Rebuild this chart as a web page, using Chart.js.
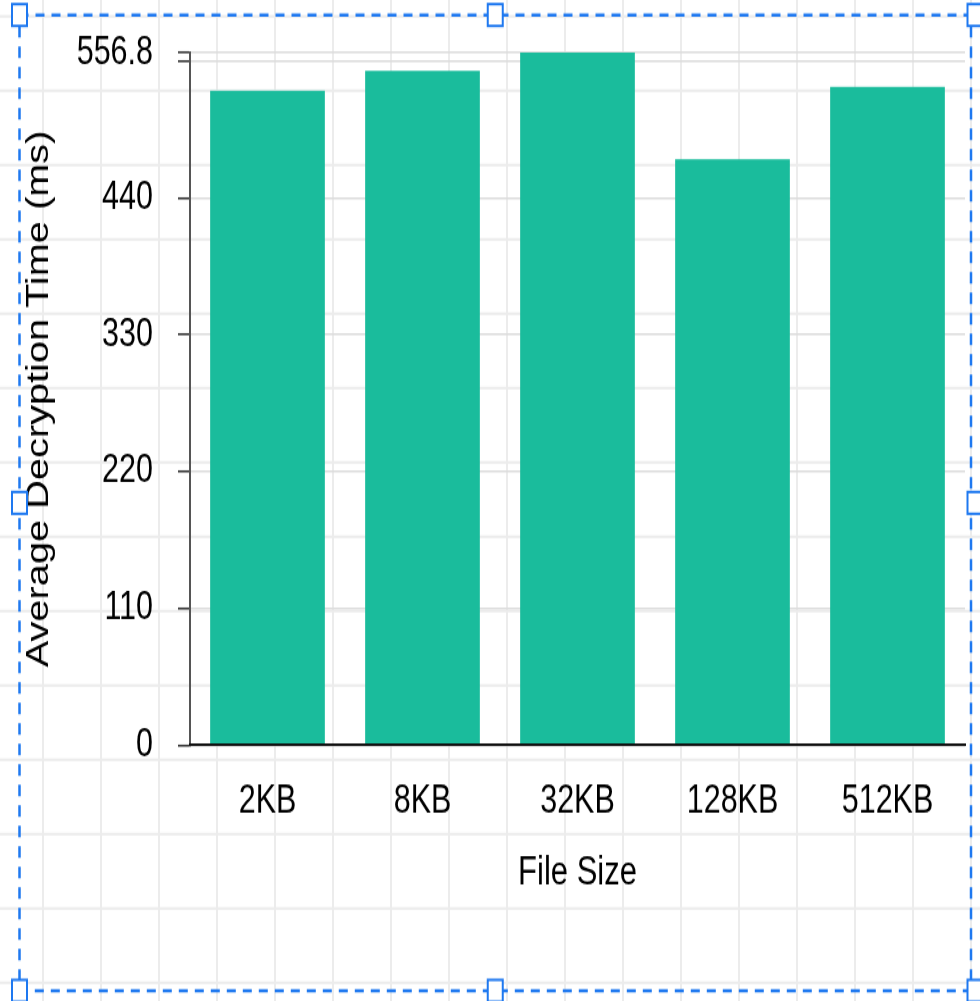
<!DOCTYPE html>
<html>
<head>
<meta charset="utf-8">
<title>Average Decryption Time by File Size</title>
<script src="https://cdn.jsdelivr.net/npm/chart.js@4"></script>
<style>
  html, body { margin: 0; padding: 0; background: #ffffff; overflow: hidden; }
</style>
</head>
<body>
<!-- the drawing surface is laid out at 980x781 and shown at 980x1001 -->
<canvas id="chart" width="980" height="781" style="display:block;width:980px;height:1001px"></canvas>
<script>
// ---- data ----
const categories = ['2KB', '8KB', '32KB', '128KB', '512KB'];
const decryptTimes = [526.2, 542.3, 556.8, 471.0, 529.4];
const yTickValues = [0, 110, 220, 330, 440, 550, 556.8];
const yTickLabels = ['0', '110', '220', '330', '440', '', '556.8'];
const xAxisTitle = 'File Size';
const yAxisTitle = 'Average Decryption Time (ms)';

// ---- styling ----
const FONT = "'Liberation Sans', Arial, Helvetica, sans-serif";
const BAR_COLOR = '#1abc9c';

// light square grid of the editing surface behind the chart
const surfaceGrid = {
  id: 'surfaceGrid',
  beforeDraw(chart) {
    const { ctx, width, height } = chart;
    ctx.save();
    ctx.fillStyle = '#ffffff';
    ctx.fillRect(0, 0, width, height);
    ctx.strokeStyle = '#ececec';
    ctx.lineWidth = 2;
    ctx.beginPath();
    for (let x = 43; x < width + 1; x += 58) {
      ctx.moveTo(x, 0);
      ctx.lineTo(x, height);
    }
    for (let y = 12.8; y < height + 1; y += 58) {
      ctx.moveTo(0, y);
      ctx.lineTo(width, y);
    }
    ctx.stroke();
    ctx.restore();
  }
};

// dashed selection frame with its resize handles
const selectionFrame = {
  id: 'selectionFrame',
  afterDraw(chart) {
    const { ctx } = chart;
    const L = 19.5, R = 971, T = 11.7, B = 773;
    const blue = '#1e78f0';
    ctx.save();
    ctx.strokeStyle = blue;
    ctx.lineWidth = 2.5;
    ctx.setLineDash([9, 7]);
    ctx.strokeRect(L, T, R - L, B - T);
    ctx.setLineDash([]);
    const hw = 15, hh = 17;
    const mx = (L + R) / 2, my = (T + B) / 2;
    const pts = [[L, T], [mx, T], [R + 4, T], [L, my], [R + 4, my], [L, B], [mx, B], [R + 4, B]];
    ctx.lineWidth = 2;
    pts.forEach(([x, y]) => {
      ctx.fillStyle = '#ffffff';
      ctx.fillRect(x - hw / 2, y - hh / 2, hw, hh);
      ctx.strokeRect(x - hw / 2, y - hh / 2, hw, hh);
    });
    ctx.restore();
  }
};

new Chart(document.getElementById('chart'), {
  type: 'bar',
  data: {
    labels: categories,
    datasets: [{
      label: yAxisTitle,
      data: decryptTimes,
      backgroundColor: BAR_COLOR,
      borderWidth: 0,
      categoryPercentage: 1.0,
      barPercentage: 0.74
    }]
  },
  options: {
    responsive: false,
    devicePixelRatio: 1,
    animation: false,
    events: [],
    layout: { padding: { top: 41.1, right: 15, bottom: 0, left: 0 } },
    plugins: {
      legend: { display: false },
      tooltip: { enabled: false },
      title: { display: false }
    },
    scales: {
      x: {
        grid: { display: false, drawTicks: false },
        border: { display: true, color: '#111111', width: 2, z: 1 },
        ticks: {
          color: '#000000',
          font: { family: FONT, size: 30.5 },
          padding: 26,
          maxRotation: 0,
          autoSkip: false
        },
        title: {
          display: true,
          text: xAxisTitle,
          color: '#000000',
          font: { family: FONT, size: 31 },
          padding: { top: 0, bottom: 81.3 }
        },
        afterFit(scale) { scale.height = 199.7; }
      },
      y: {
        min: 0,
        max: 556.8,
        afterBuildTicks(scale) {
          scale.ticks = yTickValues.map(v => ({ value: v }));
        },
        grid: {
          color: '#dcdcdc',
          lineWidth: 1.5,
          drawTicks: true,
          tickLength: 12,
          tickColor: '#333333',
          tickWidth: 1.6
        },
        border: { display: true, color: '#555555', width: 2 },
        ticks: {
          autoSkip: false,
          color: '#000000',
          font: { family: FONT, size: 30.5 },
          padding: 25,
          callback: (value, index) => yTickLabels[index]
        },
        title: {
          display: true,
          text: yAxisTitle,
          color: '#000000',
          font: { family: FONT, size: 31 },
          padding: { top: 20.4, bottom: 0 }
        },
        afterFit(scale) {
          scale.width = 190;
          // the plot top is fixed by the layout padding alone
          scale.paddingTop = 0;
          scale.paddingBottom = 0;
        }
      }
    }
  },
  plugins: [surfaceGrid, selectionFrame]
});
</script>
</body>
</html>
